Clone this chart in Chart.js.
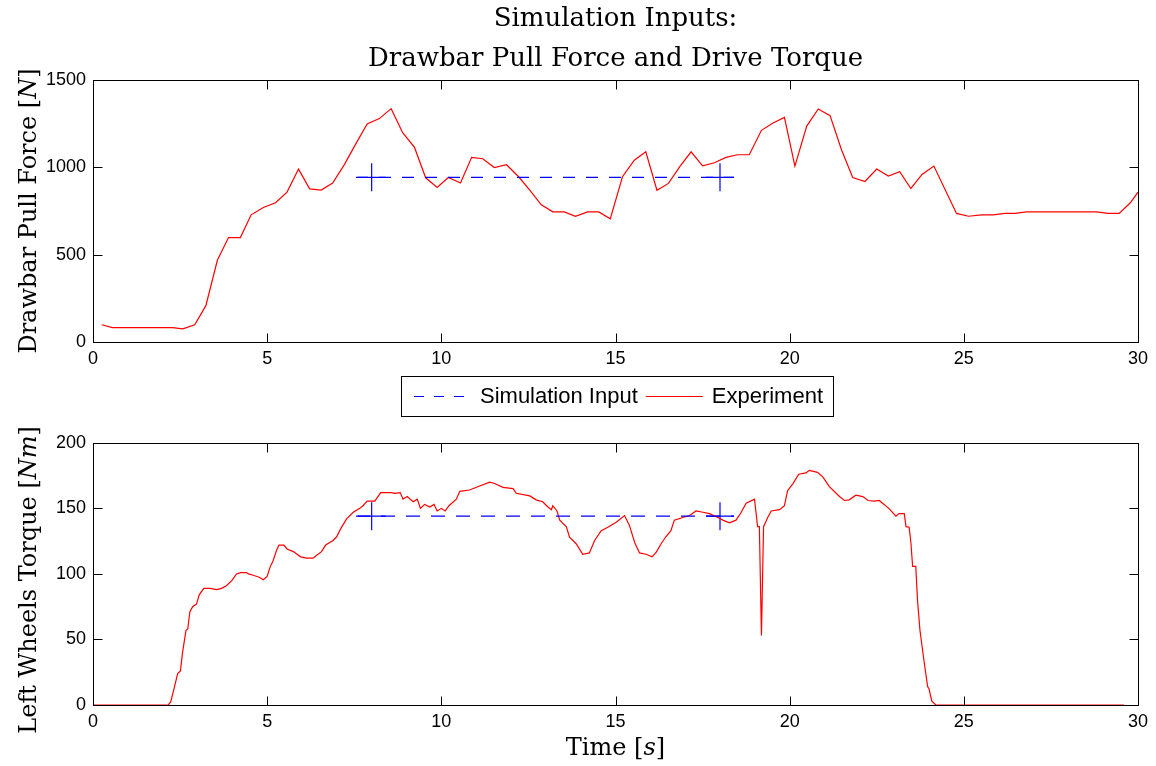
<!DOCTYPE html>
<html>
<head>
<meta charset="utf-8">
<script src="https://cdn.jsdelivr.net/npm/chart.js@4.4.1/dist/chart.umd.min.js"></script>
<style>
html,body{margin:0;padding:0;background:#fff;}
#wrap{position:relative;width:1156px;height:766px;background:#fff;}
#c1{position:absolute;left:0;top:0;}
#c2{position:absolute;left:0;top:425px;}
</style>
</head>
<body>
<div id="wrap">
<canvas id="c1" width="1156" height="425"></canvas>
<canvas id="c2" width="1156" height="341"></canvas>
</div>
<script>
// ---------------- DATA ----------------
const chartTitle = ['Simulation Inputs:', 'Drawbar Pull Force and Drive Torque'];
const seriesLabels = ['Simulation Input', 'Experiment'];
const xTicks = [0, 5, 10, 15, 20, 25, 30];
const forceTicks = [0, 500, 1000, 1500];
const torqueTicks = [0, 50, 100, 150, 200];

// Top: drawbar pull force, experiment
const forceTime = [0.25,0.56,2.28,2.58,2.92,3.24,3.57,3.89,4.23,4.54,4.89,5.24,5.57,5.90,6.22,6.55,6.88,7.22,7.54,7.87,8.22,8.56,8.89,9.23,9.55,9.88,10.2,10.55,10.87,11.19,11.52,11.87,12.22,12.55,12.87,13.2,13.53,13.85,14.2,14.52,14.85,15.2,15.54,15.87,16.19,16.52,16.84,17.17,17.5,17.84,18.17,18.5,18.84,19.19,19.51,19.85,20.15,20.49,20.82,21.16,21.49,21.81,22.16,22.5,22.83,23.16,23.48,23.8,24.14,24.79,25.13,25.51,25.84,26.18,26.47,26.8,27.47,28.4,28.8,29.14,29.46,29.78,30.0];
const forceExp = [99,82,82,75,99,208,468,598,598,728,770,797,858,990,877,870,910,1017,1133,1248,1279,1336,1198,1114,940,885,942,910,1057,1049,999,1015,946,866,785,745,745,720,745,745,705,946,1041,1089,869,908,1003,1089,1009,1026,1057,1072,1072,1212,1252,1286,1007,1236,1334,1296,1099,942,919,990,950,975,879,959,1007,736,720,728,728,736,736,745,745,745,745,736,736,797,858];

// Top: simulation input
const simTime = [7.55, 18.4];
const simForce = [943, 943];
const markerTime = [8, 18];

// Bottom: left wheels torque, experiment
const torqueTime = [0,2.16,2.23,2.35,2.43,2.51,2.57,2.67,2.72,2.78,2.86,2.97,3.05,3.18,3.36,3.55,3.69,3.83,3.99,4.12,4.24,4.41,4.46,4.6,4.77,4.89,5.0,5.08,5.17,5.27,5.34,5.48,5.57,5.75,5.96,6.13,6.32,6.41,6.56,6.68,6.89,7.0,7.1,7.28,7.47,7.66,7.75,7.87,8.09,8.26,8.42,8.57,8.66,8.82,8.9,9.02,9.19,9.31,9.4,9.52,9.67,9.79,9.88,10.0,10.11,10.22,10.43,10.53,10.81,11.1,11.39,11.53,11.77,12.06,12.15,12.54,12.72,12.91,13.06,13.16,13.2,13.32,13.4,13.59,13.68,13.87,14.06,14.25,14.4,14.59,14.78,15.02,15.26,15.4,15.55,15.69,15.88,16.05,16.17,16.31,16.45,16.59,16.69,16.93,17.13,17.31,17.51,17.7,17.94,18.08,18.27,18.46,18.61,18.75,18.99,19.08,19.13,19.19,19.25,19.37,19.47,19.71,19.85,19.94,20.09,20.26,20.47,20.56,20.8,20.95,21.14,21.43,21.57,21.71,21.9,22.1,22.25,22.43,22.57,22.71,22.86,23.05,23.14,23.29,23.34,23.43,23.48,23.53,23.62,23.67,23.74,23.86,23.96,24.0,24.08,24.2,29.6];
const torqueExp = [0,0,2.3,15,24,26,40,57,58,71,75,77,84,89,89,88,89,91,95,100,101,101,100,99,97.5,95.5,98,105,110,118,122,122,119,117,113,112,112,114,117,122,125.5,128.5,134,142,147,150,152,155.5,155.5,162,162,162,161.5,162,157,159,155,157,150,153,151,153,148,150,148,152,157,163,164,167,170,169,166,165,161.5,159.5,156.5,155,151,149,152,148,141,136,128,123,115,116,125.5,133,135.6,139.4,144.5,137,124,116,115,113,116.6,123,128.5,133,141,143,144.5,148,147,146,143,141,139,141,147,154,157,136,136,53,136,143,148,149,152,163.5,168.7,176,177,179,177.5,174,166.6,159,156,156.5,160,159,156,155.5,156,153,149.6,144,146,146,136,135.6,124,105.7,105.7,80,57,33,14,12.4,3,0,0];

// Bottom: simulation input
const simTorque = [144, 144];

// ---------------- STYLE ----------------
const SANS = '"Liberation Sans", Arial, Helvetica, sans-serif';
const SERIF = '"DejaVu Serif", "Liberation Serif", serif';
const BLUE = '#0000ff';
const RED = '#ff0000';
const PLOT_LEFT = 93;

const pts = (xs, ys) => xs.map((x, i) => ({x: x, y: ys[i]}));

// inward ticks on all four sides + box
const framePlugin = {
  id: 'frame',
  afterDraw(chart) {
    const ctx = chart.ctx, a = chart.chartArea, sx = chart.scales.x, sy = chart.scales.y;
    const L = 9;
    const l = Math.round(a.left) + 0.5, r = Math.round(a.right) + 0.5;
    const t = Math.round(a.top) + 0.5, b = Math.round(a.bottom) + 0.5;
    ctx.save();
    ctx.strokeStyle = '#000';
    ctx.lineWidth = 1;
    ctx.beginPath();
    sx.ticks.forEach(tk => {
      const p = Math.round(sx.getPixelForValue(tk.value)) + 0.5;
      if (p <= l + 1 || p >= r - 1) return;
      ctx.moveTo(p, b); ctx.lineTo(p, b - L);
      ctx.moveTo(p, t); ctx.lineTo(p, t + L);
    });
    sy.ticks.forEach(tk => {
      const p = Math.round(sy.getPixelForValue(tk.value)) + 0.5;
      if (p <= t + 1 || p >= b - 1) return;
      ctx.moveTo(l, p); ctx.lineTo(l + L, p);
      ctx.moveTo(r, p); ctx.lineTo(r - L, p);
    });
    ctx.stroke();
    ctx.strokeRect(l, t, r - l, b - t);
    ctx.restore();
  }
};

// axis titles with LaTeX-like italic symbols
function drawParts(ctx, parts, size) {
  let w = 0;
  parts.forEach(p => { ctx.font = (p[1] ? 'italic ' : '') + size + 'px ' + SERIF; w += ctx.measureText(p[0]).width; });
  let x = -w / 2;
  parts.forEach(p => {
    ctx.font = (p[1] ? 'italic ' : '') + size + 'px ' + SERIF;
    ctx.fillText(p[0], x, 0);
    x += ctx.measureText(p[0]).width;
  });
}
const mathTitles = {
  id: 'mathTitles',
  afterDraw(chart, args, opts) {
    const ctx = chart.ctx, a = chart.chartArea;
    ctx.save();
    ctx.fillStyle = '#000';
    ctx.textBaseline = 'alphabetic';
    ctx.textAlign = 'left';
    if (opts.y) {
      ctx.save();
      ctx.translate(opts.yBase, (a.top + a.bottom) / 2 + (opts.yShift || 0));
      ctx.rotate(-Math.PI / 2);
      drawParts(ctx, opts.y, opts.size);
      ctx.restore();
    }
    if (opts.x) {
      ctx.save();
      ctx.translate((a.left + a.right) / 2, opts.xBase);
      drawParts(ctx, opts.x, opts.size);
      ctx.restore();
    }
    ctx.restore();
  }
};

// boxed legend
const boxLegend = {
  id: 'boxLegend',
  afterDraw(chart, args, opts) {
    if (!opts.show) return;
    const ctx = chart.ctx;
    const items = chart.data.datasets.filter(d => d.inLegend);
    ctx.save();
    ctx.font = '22px ' + SANS;
    const sample = 57, g1 = 9, g2 = 8, padL = 13, padR = 10;
    let w = padL + padR;
    items.forEach((d, i) => { w += sample + g1 + ctx.measureText(d.label).width + (i < items.length - 1 ? g2 : 0); });
    w = Math.round(w);
    const x0 = Math.round(opts.cx - w / 2), y0 = opts.top, h = opts.height;
    ctx.fillStyle = '#fff';
    ctx.fillRect(x0, y0, w, h);
    ctx.strokeStyle = '#000';
    ctx.lineWidth = 1;
    ctx.strokeRect(x0 + 0.5, y0 + 0.5, w, h);
    let x = x0 + padL;
    const cy = y0 + h / 2;
    items.forEach(d => {
      ctx.strokeStyle = d.borderColor;
      ctx.lineWidth = d.borderWidth;
      ctx.setLineDash(d.legendDash || []);
      ctx.beginPath();
      ctx.moveTo(x, Math.round(cy) + 0.5);
      ctx.lineTo(x + sample, Math.round(cy) + 0.5);
      ctx.stroke();
      ctx.setLineDash([]);
      x += sample + g1;
      ctx.fillStyle = '#000';
      ctx.textBaseline = 'middle';
      ctx.textAlign = 'left';
      ctx.fillText(d.label, x, cy + 1);
      x += ctx.measureText(d.label).width + g2;
    });
    ctx.restore();
  }
};

function buildOptions(cfg) {
  return {
    responsive: false,
    animation: false,
    events: [],
    layout: { padding: cfg.padding },
    plugins: {
      legend: { display: false },
      tooltip: { enabled: false },
      title: cfg.title ? {
        display: true,
        fullSize: false,
        text: cfg.title,
        color: '#000',
        font: { family: SERIF, size: 26, weight: 'normal', lineHeight: 40 / 26 },
        padding: { top: -1, bottom: 1 }
      } : { display: false },
      mathTitles: cfg.mathTitles,
      boxLegend: cfg.legend || { show: false }
    },
    scales: {
      x: {
        type: 'linear',
        min: 0, max: 30,
        afterBuildTicks: s => { s.ticks = xTicks.map(v => ({value: v})); },
        afterFit: s => { s.height = cfg.xAxisH; },
        grid: { display: false, drawTicks: false },
        border: { display: false },
        ticks: { color: '#000', font: { family: SANS, size: 18 }, padding: 6, maxRotation: 0, autoSkip: false,
                 callback: v => String(v) }
      },
      y: {
        type: 'linear',
        min: cfg.yTicks[0], max: cfg.yTicks[cfg.yTicks.length - 1],
        afterBuildTicks: s => { s.ticks = cfg.yTicks.map(v => ({value: v})); },
        afterFit: s => { s.width = PLOT_LEFT; },
        grid: { display: false, drawTicks: false },
        border: { display: false },
        ticks: { color: '#000', font: { family: SANS, size: 18 }, padding: 7, callback: v => String(v) }
      }
    }
  };
}

function datasets(simY, expX, expY, dashes) {
  return [
    { label: seriesLabels[0], data: pts(simTime, simY), showLine: true, borderColor: BLUE, backgroundColor: BLUE,
      borderWidth: 1.2, borderDash: dashes, legendDash: [10, 10], pointRadius: 0, inLegend: true },
    { label: seriesLabels[1], data: pts(expX, expY), showLine: true, borderColor: RED, backgroundColor: RED,
      borderWidth: 1.2, pointRadius: 0, tension: 0, inLegend: true },
    { label: 'markers', data: pts(markerTime, simY), showLine: false, pointStyle: 'cross', pointRadius: 14,
      borderColor: BLUE, backgroundColor: BLUE, pointBorderWidth: 1.2, borderWidth: 1.2 }
  ];
}

new Chart(document.getElementById('c1'), {
  type: 'scatter',
  data: { datasets: datasets(simForce, forceTime, forceExp, [12, 11]) },
  options: buildOptions({
    title: chartTitle,
    padding: { top: 0, left: 0, right: 18, bottom: 53 },
    xAxisH: 30,
    yTicks: forceTicks,
    mathTitles: { size: 24, yBase: 36, yShift: 0, y: [['Drawbar Pull Force [', false], ['N', true], [']', false]] },
    legend: { show: true, cx: 617, top: 376, height: 40 }
  }),
  plugins: [framePlugin, mathTitles, boxLegend]
});

new Chart(document.getElementById('c2'), {
  type: 'scatter',
  data: { datasets: datasets(simTorque, torqueTime, torqueExp, [14, 11]) },
  options: buildOptions({
    title: null,
    padding: { top: 17, left: 0, right: 18, bottom: 0 },
    xAxisH: 61,
    yTicks: torqueTicks,
    mathTitles: { size: 24, yBase: 36, yShift: 6, xBase: 330,
      y: [['Left Wheels Torque [', false], ['Nm', true], [']', false]],
      x: [['Time [', false], ['s', true], [']', false]] }
  }),
  plugins: [framePlugin, mathTitles, boxLegend]
});
</script>
</body>
</html>
